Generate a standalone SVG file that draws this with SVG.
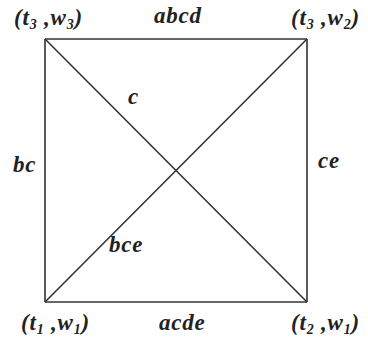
<svg xmlns="http://www.w3.org/2000/svg" width="368" height="340" viewBox="0 0 368 340">
<style>
text{font-family:"Liberation Serif","Times New Roman",serif;font-weight:bold;font-style:italic;font-size:23px;fill:#222;letter-spacing:0.8px}
.s{font-size:14px}
.e{stroke:#333;stroke-width:1.6;fill:none}
</style>
<rect width="368" height="340" fill="#fff"/>
<g id="connectors">
<line class="e" x1="45" y1="39" x2="307" y2="39"/>
<line class="e" x1="45" y1="302" x2="307" y2="302"/>
<line class="e" x1="45" y1="39" x2="45" y2="302"/>
<line class="e" x1="307" y1="39" x2="307" y2="302"/>
<line class="e" x1="45" y1="39" x2="307" y2="302"/>
<line class="e" x1="45" y1="302" x2="307" y2="39"/>
</g>
<g id="n_t3w3"><text x="14" y="25">(t<tspan class="s" dy="4">3</tspan><tspan dy="-4"> ,w</tspan><tspan class="s" dy="4">3</tspan><tspan dy="-4">)</tspan></text></g>
<g id="n_t3w2"><text x="291" y="25">(t<tspan class="s" dy="4">3</tspan><tspan dy="-4"> ,w</tspan><tspan class="s" dy="4">2</tspan><tspan dy="-4">)</tspan></text></g>
<g id="n_t1w1"><text x="21" y="330">(t<tspan class="s" dy="4">1</tspan><tspan dy="-4"> ,w</tspan><tspan class="s" dy="4">1</tspan><tspan dy="-4">)</tspan></text></g>
<g id="n_t2w1"><text x="291" y="330">(t<tspan class="s" dy="4">2</tspan><tspan dy="-4"> ,w</tspan><tspan class="s" dy="4">1</tspan><tspan dy="-4">)</tspan></text></g>
<g id="labels">
<text x="154" y="23">abcd</text>
<text x="159" y="330">acde</text>
<text x="13" y="172">bc</text>
<text x="318" y="168">ce</text>
<text x="128" y="104">c</text>
<text x="109" y="252">bce</text>
</g>
</svg>
